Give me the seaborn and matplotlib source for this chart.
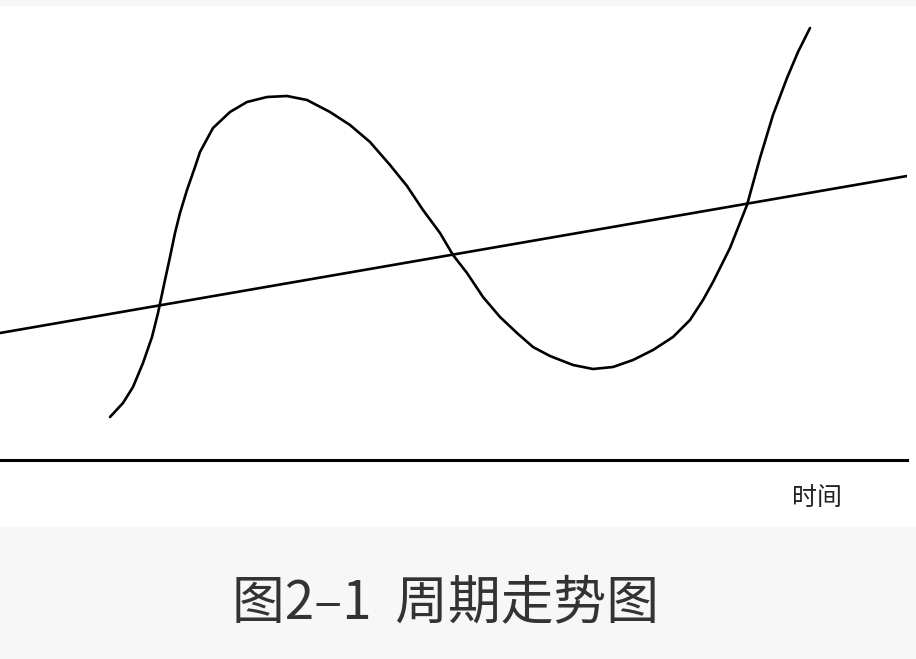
import matplotlib
matplotlib.use('Agg')
import matplotlib.pyplot as plt
from matplotlib.patches import Rectangle
import pandas as pd
import seaborn as sns

# cycle curve: time vs level (height above the time axis)
cycle_time = [110, 123, 133, 143, 152, 158, 165, 170, 175, 180,
              187, 195, 200, 213, 230, 247, 267, 287, 307, 330,
              350, 370, 390, 407, 423, 440, 453, 467, 483, 500,
              517, 533, 550, 573, 593, 613, 633, 653, 673, 690,
              703, 713, 730, 747, 760, 773, 787, 798, 810]
cycle_level = [43, 57, 73, 97, 123, 147, 180, 203, 227, 247,
               270, 293, 308, 332, 348, 358, 363, 364, 360, 348,
               335, 318, 295, 274, 250, 227, 205, 187, 163, 143,
               127, 113, 104, 95, 91, 93, 100, 110, 123, 140,
               160, 178, 212, 255, 302, 345, 382, 408, 432]

# long-term trend line
trend_time = [0, 907]
trend_level = [127, 284]

axis_label = '时间'
caption = '图2–1  周期走势图'

sns.set_theme(style='white')
plt.rcParams['font.family'] = ['Noto Sans CJK SC', 'DejaVu Sans']

W, H = 916, 659
fig = plt.figure(figsize=(W / 100, H / 100), dpi=100)
fig.patch.set_facecolor('white')

# grey bands top and bottom
fig.add_artist(Rectangle((0, 0), 1, 132 / H, transform=fig.transFigure,
                         color='#f7f7f7', zorder=0))
fig.add_artist(Rectangle((0, 1 - 5 / H), 1, 5 / H, transform=fig.transFigure,
                         color='#f7f7f7', zorder=0))

ax = fig.add_axes([0, (H - 460) / H, 907 / W, 455 / H])
ax.set_facecolor('none')

cycle = pd.DataFrame({'time': cycle_time, 'level': cycle_level})
trend = pd.DataFrame({'time': trend_time, 'level': trend_level})
sns.lineplot(data=cycle, x='time', y='level', ax=ax, color='black', lw=1.9,
             estimator=None, sort=False, solid_joinstyle='round',
             solid_capstyle='round')
sns.lineplot(data=trend, x='time', y='level', ax=ax, color='black', lw=1.9,
             estimator=None)

ax.set_xlim(0, 907)
ax.set_ylim(0, 455)
for s in ['top', 'right', 'left']:
    ax.spines[s].set_visible(False)
ax.spines['bottom'].set_color('black')
ax.spines['bottom'].set_linewidth(2.2)
ax.set_xticks([])
ax.set_yticks([])
ax.set_xlabel('')
ax.set_ylabel('')

fig.text(817 / W, 1 - 498 / H, axis_label, ha='center', va='center',
         fontsize=18, color='#222222')
fig.text(446 / W, 1 - 603 / H, caption, ha='center', va='center',
         fontsize=38, color='#333333', fontweight='light')

fig.savefig('out.png', dpi=100)
